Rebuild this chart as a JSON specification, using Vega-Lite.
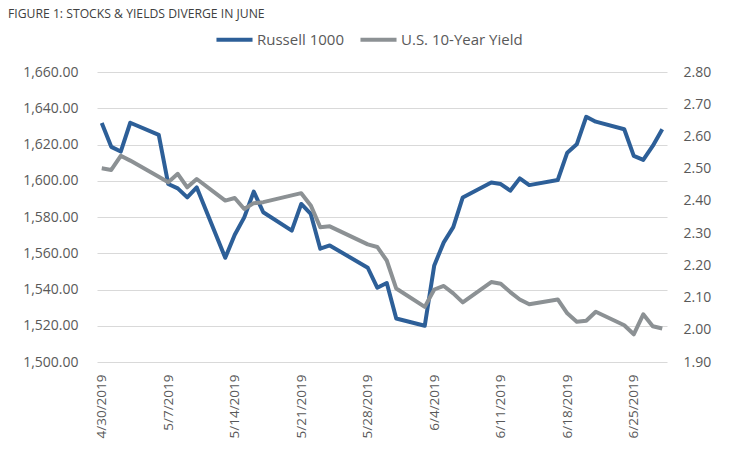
{
  "$schema": "https://vega.github.io/schema/vega-lite/v6.json",
  "width": 570,
  "height": 290,
  "autosize": {"type": "none"},
  "padding": {"left": 97, "top": 72, "right": 83, "bottom": 92},
  "background": "white",
  "config": {
    "font": "Open Sans",
    "view": {"stroke": null},
    "axis": {"labelFont": "Open Sans", "labelColor": "#595959", "ticks": false, "domain": false}
  },
  "title": {
    "text": "FIGURE 1: STOCKS & YIELDS DIVERGE IN JUNE",
    "anchor": "start",
    "frame": "group",
    "dx": -89,
    "offset": -1,
    "fontSize": 12.2,
    "fontWeight": "normal",
    "color": "#404040",
    "font": "Open Sans"
  },
  "data": {
    "values": [
      {"date": "2019-04-30", "russell": 1631.9, "yield": 2.501},
      {"date": "2019-05-01", "russell": 1618.7, "yield": 2.496},
      {"date": "2019-05-02", "russell": 1616.1, "yield": 2.540},
      {"date": "2019-05-03", "russell": 1632.0, "yield": 2.525},
      {"date": "2019-05-06", "russell": 1625.3, "yield": 2.475},
      {"date": "2019-05-07", "russell": 1598.2, "yield": 2.458},
      {"date": "2019-05-08", "russell": 1595.8, "yield": 2.484},
      {"date": "2019-05-09", "russell": 1590.8, "yield": 2.442},
      {"date": "2019-05-10", "russell": 1596.3, "yield": 2.468},
      {"date": "2019-05-13", "russell": 1557.5, "yield": 2.401},
      {"date": "2019-05-14", "russell": 1570.2, "yield": 2.409},
      {"date": "2019-05-15", "russell": 1579.8, "yield": 2.375},
      {"date": "2019-05-16", "russell": 1594.0, "yield": 2.393},
      {"date": "2019-05-17", "russell": 1582.6, "yield": 2.396},
      {"date": "2019-05-20", "russell": 1572.5, "yield": 2.417},
      {"date": "2019-05-21", "russell": 1587.2, "yield": 2.424},
      {"date": "2019-05-22", "russell": 1581.7, "yield": 2.386},
      {"date": "2019-05-23", "russell": 1562.5, "yield": 2.318},
      {"date": "2019-05-24", "russell": 1564.3, "yield": 2.321},
      {"date": "2019-05-28", "russell": 1552.0, "yield": 2.265},
      {"date": "2019-05-29", "russell": 1541.0, "yield": 2.257},
      {"date": "2019-05-30", "russell": 1543.6, "yield": 2.215},
      {"date": "2019-05-31", "russell": 1524.0, "yield": 2.128},
      {"date": "2019-06-03", "russell": 1520.0, "yield": 2.071},
      {"date": "2019-06-04", "russell": 1553.3, "yield": 2.125},
      {"date": "2019-06-05", "russell": 1566.0, "yield": 2.136},
      {"date": "2019-06-06", "russell": 1574.4, "yield": 2.113},
      {"date": "2019-06-07", "russell": 1590.8, "yield": 2.085},
      {"date": "2019-06-10", "russell": 1599.0, "yield": 2.148},
      {"date": "2019-06-11", "russell": 1598.2, "yield": 2.143},
      {"date": "2019-06-12", "russell": 1594.5, "yield": 2.117},
      {"date": "2019-06-13", "russell": 1601.3, "yield": 2.094},
      {"date": "2019-06-14", "russell": 1597.6, "yield": 2.079},
      {"date": "2019-06-17", "russell": 1600.4, "yield": 2.094},
      {"date": "2019-06-18", "russell": 1615.5, "yield": 2.051},
      {"date": "2019-06-19", "russell": 1620.1, "yield": 2.025},
      {"date": "2019-06-20", "russell": 1635.3, "yield": 2.028},
      {"date": "2019-06-21", "russell": 1632.6, "yield": 2.056},
      {"date": "2019-06-24", "russell": 1628.4, "yield": 2.014},
      {"date": "2019-06-25", "russell": 1613.7, "yield": 1.986},
      {"date": "2019-06-26", "russell": 1611.5, "yield": 2.048},
      {"date": "2019-06-27", "russell": 1619.2, "yield": 2.011},
      {"date": "2019-06-28", "russell": 1628.4, "yield": 2.004}
    ]
  },
  "encoding": {
    "x": {
      "field": "date",
      "type": "temporal",
      "scale": {
        "type": "utc",
        "domain": [
          {"year": 2019, "month": 4, "date": 29, "hours": 12, "utc": true},
          {"year": 2019, "month": 6, "date": 28, "hours": 12, "utc": true}
        ]
      },
      "axis": {
        "title": null,
        "format": "%-m/%-d/%Y",
        "labelAngle": 270,
        "labelFontSize": 13.5,
        "labelPadding": 12,
        "labelOverlap": false,
        "grid": false,
        "values": [
          {"year": 2019, "month": 4, "date": 30, "utc": true},
          {"year": 2019, "month": 5, "date": 7, "utc": true},
          {"year": 2019, "month": 5, "date": 14, "utc": true},
          {"year": 2019, "month": 5, "date": 21, "utc": true},
          {"year": 2019, "month": 5, "date": 28, "utc": true},
          {"year": 2019, "month": 6, "date": 4, "utc": true},
          {"year": 2019, "month": 6, "date": 11, "utc": true},
          {"year": 2019, "month": 6, "date": 18, "utc": true},
          {"year": 2019, "month": 6, "date": 25, "utc": true}
        ]
      }
    }
  },
  "layer": [
    {
      "mark": {"type": "line", "strokeWidth": 4, "strokeJoin": "round"},
      "encoding": {
        "y": {
          "field": "russell",
          "type": "quantitative",
          "scale": {"domain": [1500, 1660], "nice": false, "zero": false},
          "axis": {
            "title": null,
            "orient": "left",
            "format": ",.2f",
            "values": [1500, 1520, 1540, 1560, 1580, 1600, 1620, 1640, 1660],
            "labelFontSize": 14,
            "labelPadding": 19,
            "grid": true,
            "gridColor": "#D9D9D9",
            "gridWidth": 1
          }
        },
        "color": {
          "datum": "Russell 1000",
          "type": "nominal",
          "scale": {"domain": ["Russell 1000", "U.S. 10-Year Yield"], "range": ["#2D5F98", "#8C9194"]},
          "legend": {
            "title": null,
            "orient": "none",
            "direction": "horizontal",
            "legendX": 117,
            "legendY": -53,
            "symbolType": "stroke",
            "symbolSize": 1300,
            "symbolStrokeWidth": 4,
            "labelFontSize": 15,
            "labelColor": "#595959",
            "labelOffset": 2,
            "columnPadding": 8
          }
        }
      }
    },
    {
      "mark": {"type": "line", "strokeWidth": 4, "strokeJoin": "round"},
      "encoding": {
        "y": {
          "field": "yield",
          "type": "quantitative",
          "scale": {"domain": [1.9, 2.8], "nice": false, "zero": false},
          "axis": {
            "title": null,
            "orient": "right",
            "format": ".2f",
            "values": [1.9, 2.0, 2.1, 2.2, 2.3, 2.4, 2.5, 2.6, 2.7, 2.8],
            "labelFontSize": 14,
            "labelPadding": 16,
            "grid": false
          }
        },
        "color": {"datum": "U.S. 10-Year Yield", "type": "nominal"}
      }
    }
  ],
  "resolve": {"scale": {"y": "independent"}}
}
